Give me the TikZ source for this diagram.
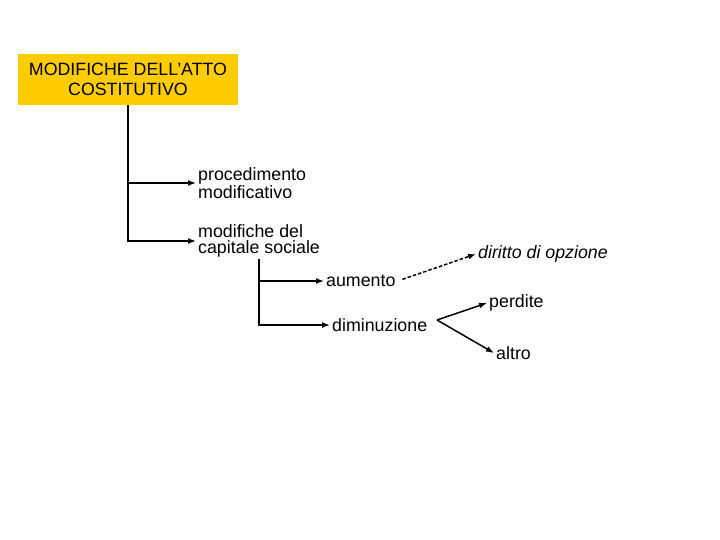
\documentclass[tikz,border=0pt]{standalone}
\usepackage{fontspec}
\setmainfont{Liberation Sans}
\usetikzlibrary{positioning,arrows.meta}
\definecolor{mdYellow}{HTML}{FFCC00}
\definecolor{mdBlack}{HTML}{000000}
\definecolor{mdWhite}{HTML}{FFFFFF}
\tikzset{
  md-title/.style={
    fill=mdYellow, draw=none, align=center,
    font=\fontsize{17.8}{20}\selectfont,
    minimum width=220pt, minimum height=51pt, inner sep=0pt
  },
  md-text/.style={
    align=left, anchor=west, inner xsep=2pt, inner ysep=2pt,
    font=\fontsize{17.8}{16}\selectfont
  },
  md-flow/.style={-{Latex[length=8pt,width=6pt]}, line width=1.5pt,
    draw=mdBlack},
  md-flow-d/.style={md-flow, dash pattern=on 3.5pt off 2pt}
}
\begin{document}
\begin{tikzpicture}[x=1pt,y=-1pt]
\useasboundingbox[fill=mdWhite] (0,0) rectangle (720,540);

\node[md-title] (ttl) at (128,79.5) {MODIFICHE DELL'ATTO\\COSTITUTIVO};
\node[md-text] (proc) at (196,183) {procedimento\\modificativo};
\node[md-text] (cap) at (196,241) {modifiche del\\capitale sociale};
\node[md-text] (aum) at (324,281) {aumento};
\node[md-text] (dimin) at (330,325) {diminuzione};
\node[md-text, font=\fontsize{17.8}{16}\selectfont\itshape] (dir)
  at (476,254) {diritto di opzione};
\node[md-text] (perd) at (487,303) {perdite};
\node[md-text] (altro) at (494,353) {altro};
\coordinate (fork) at (437,320);

\draw[md-flow] (ttl.south) |- (proc.west);
\draw[md-flow] (ttl.south) |- (cap.west);
\draw[md-flow] (cap.south) |- (aum.west);
\draw[md-flow] (cap.south) |- (dimin.west);
\draw[md-flow-d, shorten <=5pt] (aum.east) -- (dir.west);
\draw[md-flow] (fork) -- (perd.west);
\draw[md-flow] (fork) -- (altro.west);
\end{tikzpicture}
\end{document}
